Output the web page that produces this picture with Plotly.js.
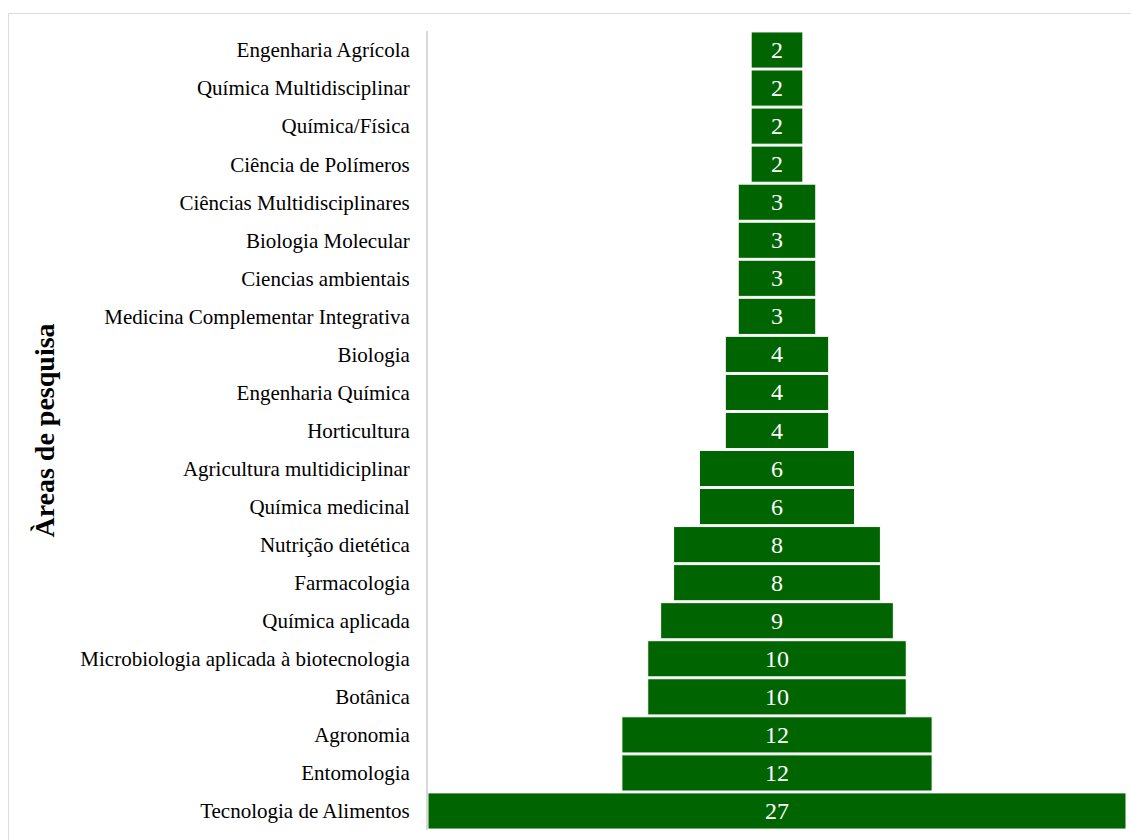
<!DOCTYPE html>
<html>
<head>
<meta charset="utf-8">
<script src="https://cdn.plot.ly/plotly-3.0.1.min.js"></script>
<style>
  html, body { margin: 0; padding: 0; background: #fff; }
  #chart { width: 1131px; height: 840px; }
  #frame { position: absolute; left: 8px; top: 13px; width: 1200px; height: 900px;
           border: 1px solid #dcdcdc; pointer-events: none; box-sizing: border-box; }
</style>
</head>
<body>
<div id="chart"></div>
<div id="frame"></div>
<script>
// Research areas, listed top to bottom
const areas = [
  "Engenharia Agrícola",
  "Química Multidisciplinar",
  "Química/Física",
  "Ciência de Polímeros",
  "Ciências Multidisciplinares",
  "Biologia Molecular",
  "Ciencias ambientais",
  "Medicina Complementar Integrativa",
  "Biologia",
  "Engenharia Química",
  "Horticultura",
  "Agricultura multidiciplinar",
  "Química medicinal",
  "Nutrição dietética",
  "Farmacologia",
  "Química aplicada",
  "Microbiologia aplicada à biotecnologia",
  "Botânica",
  "Agronomia",
  "Entomologia",
  "Tecnologia de Alimentos"
];

// Number of publications per area
const counts = [2, 2, 2, 2, 3, 3, 3, 3, 4, 4, 4, 6, 6, 8, 8, 9, 10, 10, 12, 12, 27];

const serif = "'Liberation Serif', 'Times New Roman', serif";

const trace = {
  type: "funnel",
  y: areas,
  x: counts,
  textinfo: "value",
  textposition: "inside",
  insidetextanchor: "middle",
  textfont: { family: serif, size: 24, color: "#ffffff" },
  marker: { color: "#006400", line: { color: "#ffffff", width: 1 } },
  connector: { visible: false },
  hoverinfo: "y+x"
};

const maxCount = Math.max(...counts);

const layout = {
  width: 1131,
  height: 840,
  margin: { l: 428, r: 5, t: 31, b: 10 },
  paper_bgcolor: "#ffffff",
  plot_bgcolor: "#ffffff",
  funnelgap: 0.05,
  showlegend: false,
  font: { family: serif, color: "#000000" },
  xaxis: {
    range: [-maxCount / 2, maxCount / 2],
    visible: false,
    zeroline: false,
    showgrid: false
  },
  yaxis: {
    autorange: "reversed",
    showline: true,
    linecolor: "#d9d9d9",
    linewidth: 2,
    ticks: "",
    showgrid: false,
    ticklabelstandoff: 12,
    tickfont: { family: serif, size: 21, color: "#000000" },
    title: {
      text: "<b>Àreas de pesquisa</b>",
      font: { family: serif, size: 28, color: "#000000" },
      standoff: 18
    }
  }
};

Plotly.newPlot("chart", [trace], layout, { displayModeBar: false, staticPlot: true });
</script>
</body>
</html>
